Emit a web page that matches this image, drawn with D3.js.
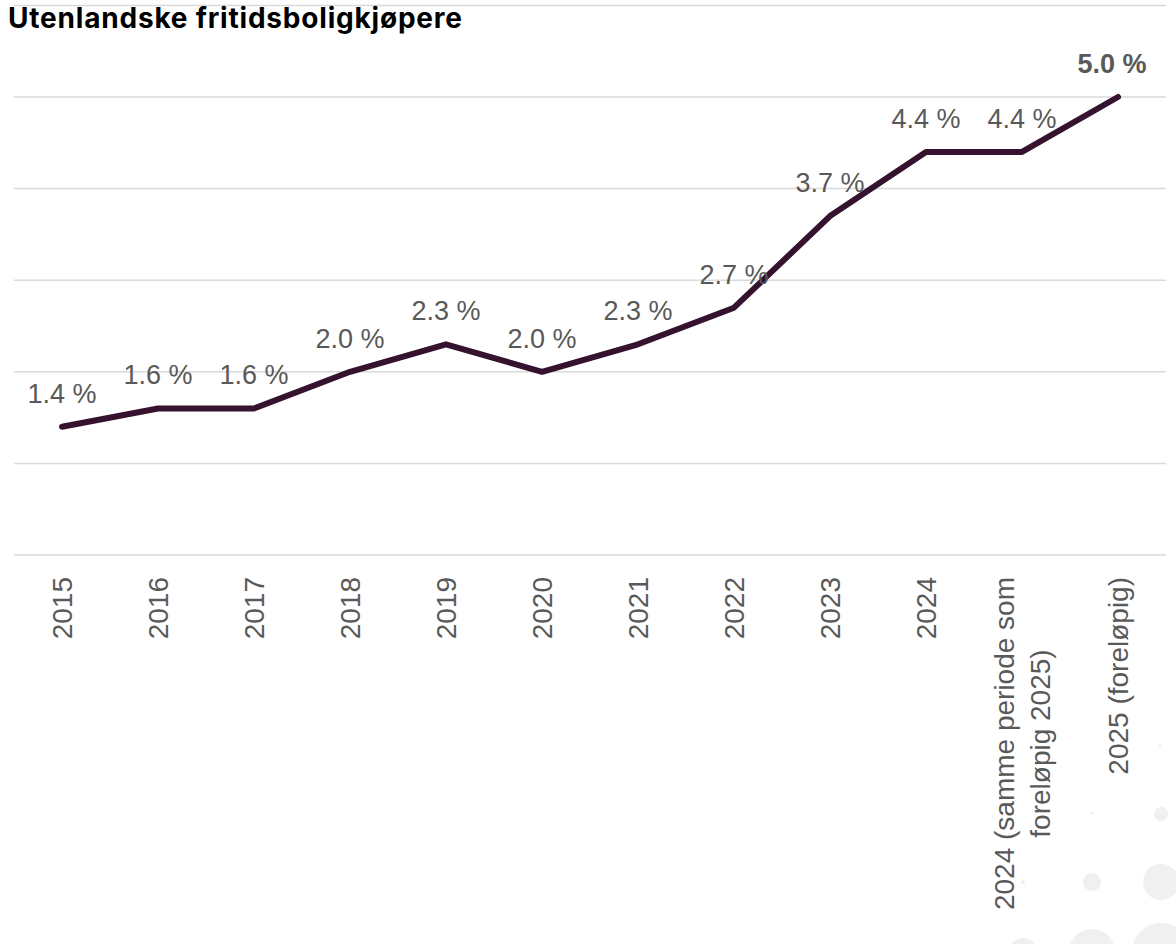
<!DOCTYPE html>
<html>
<head>
<meta charset="utf-8">
<script src="https://cdn.jsdelivr.net/npm/d3@7"></script>
<style>
  body { margin: 0; background: #fff; }
  svg { display: block; }
</style>
</head>
<body>
<svg id="chart"></svg>
<script>
var categories = ["2015", "2016", "2017", "2018", "2019", "2020", "2021", "2022", "2023", "2024",
	"2024 (samme periode som\nforeløpig 2025)", "2025 (foreløpig)"];
var values = [1.4, 1.6, 1.6, 2.0, 2.3, 2.0, 2.3, 2.7, 3.7, 4.4, 4.4, 5.0];
var valueLabels = ["1.4 %", "1.6 %", "1.6 %", "2.0 %", "2.3 %", "2.0 %", "2.3 %", "2.7 %", "3.7 %", "4.4 %", "4.4 %", "5.0 %"];
var gridTicks = [0, 1, 2, 3, 4, 5, 6];

var width = 1176;
var height = 944;
var labelFont = "Liberation Sans, Arial, sans-serif";

var svg = d3.select("#chart")
	.attr("width", width)
	.attr("height", height);

// background decoration (light dots, bottom right)
var decor = [[1160, 746, 1.5], [1092, 813, 1.5], [1161, 814, 7], [1023, 882, 2], [1092, 882, 9],
	[1161, 882, 18], [1023, 952, 14], [1092, 952, 23], [1161, 952, 29]];
svg.selectAll("circle.decor")
	.data(decor)
	.enter()
	.append("circle")
	.attr("class", "decor")
	.attr("cx", function(d) { return d[0]; })
	.attr("cy", function(d) { return d[1]; })
	.attr("r", function(d) { return d[2]; })
	.attr("fill", "#f0f0f0");

// scales
var x = d3.scaleBand()
	.domain(categories)
	.range([14, 1166]);

var y = d3.scaleLinear()
	.domain([0, 6])
	.range([555, 5.4]);

function cx(d) { return x(d) + x.bandwidth() / 2; }

// gridlines
svg.append("g")
	.selectAll("line")
	.data(gridTicks)
	.enter()
	.append("line")
	.attr("x1", 14)
	.attr("x2", 1166)
	.attr("y1", function(d) { return y(d); })
	.attr("y2", function(d) { return y(d); })
	.attr("stroke", "#d9d9d9")
	.attr("stroke-width", 1.5);

// x axis
var xAxis = svg.append("g")
	.attr("transform", "translate(0,555)")
	.call(d3.axisBottom(x).tickSize(0));
xAxis.select(".domain").remove();

xAxis.selectAll(".tick text").each(function(d) {
	var t = d3.select(this);
	var lines = d.split("\n");
	t.text(null)
		.attr("transform", "translate(0,22) rotate(-90)")
		.attr("x", 0).attr("y", 0).attr("dy", null)
		.attr("fill", "#595959")
		.style("font-family", labelFont)
		.style("font-size", "28px");
	var spans = lines.map(function(l, i) {
		return t.append("tspan")
			.text(l)
			.attr("dy", null)
			.attr("y", ((i - (lines.length - 1) / 2) * 1.3 + 0.35) + "em");
	});
	var widths = spans.map(function(s) { return s.node().getComputedTextLength(); });
	var maxW = d3.max(widths);
	t.attr("text-anchor", "middle");
	spans.forEach(function(s) { s.attr("x", -maxW / 2); });
});

// line
var line = d3.line()
	.x(function(d, i) { return cx(categories[i]); })
	.y(function(d) { return y(d); });

svg.append("path")
	.datum(values)
	.attr("d", line)
	.attr("fill", "none")
	.attr("stroke", "#35132f")
	.attr("stroke-width", 6)
	.attr("stroke-linecap", "round")
	.attr("stroke-linejoin", "round");

// value labels
svg.selectAll("text.vlabel")
	.data(values)
	.enter()
	.append("text")
	.attr("class", "vlabel")
	.attr("x", function(d, i) { return cx(categories[i]) + (i === values.length - 1 ? -6 : 0); })
	.attr("y", function(d) { return y(d) - 24; })
	.attr("text-anchor", "middle")
	.attr("fill", "#595959")
	.style("font-family", labelFont)
	.style("font-size", "27px")
	.style("font-weight", function(d, i) { return i === values.length - 1 ? "bold" : "normal"; })
	.text(function(d, i) { return valueLabels[i]; });

// title
svg.append("text")
	.attr("x", 8)
	.attr("y", 28)
	.attr("fill", "#000")
	.style("font-family", "Inter, sans-serif")
	.style("font-weight", "bold")
	.style("font-size", "28px")
	.style("letter-spacing", "0.8px")
	.text("Utenlandske fritidsboligkjøpere");
</script>
</body>
</html>
